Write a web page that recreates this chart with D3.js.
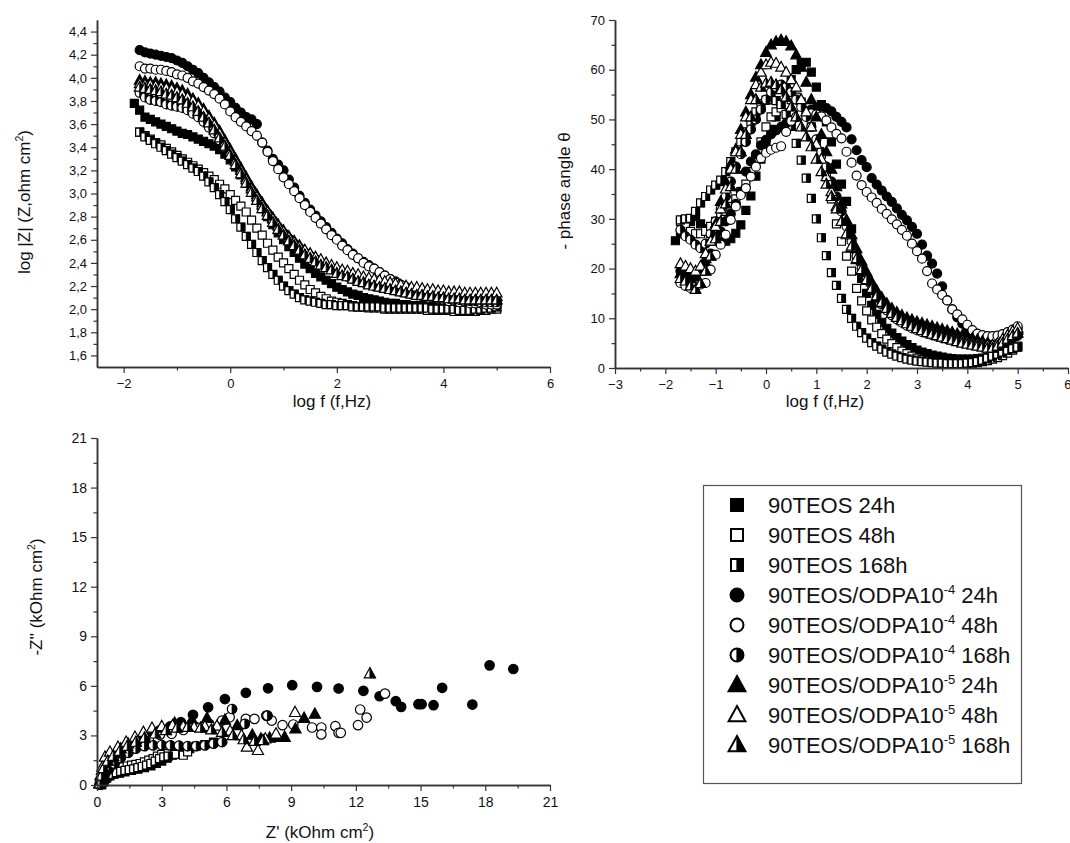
<!DOCTYPE html>
<html>
<head>
<meta charset="utf-8">
<script src="https://cdnjs.cloudflare.com/ajax/libs/d3/7.8.5/d3.min.js"></script>
<style>
    body { margin: 0; background: #fff; }
    svg { display: block; font-family: "Liberation Sans", Arial, sans-serif; }
</style>
</head>
<body>
<svg id="chart" width="1070" height="843"></svg>
<script>

// measurement frequencies, log f (Hz)
var logF = [-1.8,-1.7,-1.6,-1.5,-1.4,-1.3,-1.2,-1.1,-1.0,
    -0.9,-0.8,-0.7,-0.6,-0.5,-0.4,-0.3,-0.2,-0.1,0.0,
    0.1,0.2,0.3,0.4,0.5,0.6,0.7,0.8,0.9,1.0,
    1.1,1.2,1.3,1.4,1.5,1.6,1.7,1.8,1.9,2.0,
    2.1,2.2,2.3,2.4,2.5,2.6,2.7,2.8,2.9,3.0,
    3.1,3.2,3.3,3.4,3.5,3.6,3.7,3.8,3.9,4.0,
    4.1,4.2,4.3,4.4,4.5,4.6,4.7,4.8,4.9,5.0];

// log |Z| per sample
var zS24 = [3.78,3.72,3.66,3.64,3.62,3.60,3.58,3.56,3.54,
    3.52,3.51,3.49,3.47,3.45,3.43,3.41,3.38,3.34,3.29,
    3.23,3.16,3.09,3.02,2.94,2.87,2.80,2.73,2.66,2.60,
    2.54,2.49,2.44,2.39,2.35,2.31,2.28,2.25,2.22,2.19,
    2.17,2.15,2.13,2.12,2.10,2.09,2.08,2.07,2.06,2.05,
    2.05,2.04,2.04,2.03,2.03,2.03,2.02,2.02,2.02,2.01,
    2.01,2.00,2.00,1.99,1.99,2.00,2.00,2.00,2.01,2.01];
var zS48 = [null,3.53,3.50,3.47,3.44,3.42,3.39,3.36,3.33,
    3.30,3.27,3.24,3.21,3.18,3.15,3.12,3.08,3.04,2.99,
    2.94,2.89,2.84,2.77,2.70,2.64,2.57,2.51,2.45,2.40,
    2.35,2.30,2.25,2.21,2.17,2.14,2.11,2.09,2.07,2.06,
    2.05,2.04,2.03,2.02,2.02,2.01,2.01,2.01,2.00,2.00,
    2.00,2.00,2.00,2.00,2.00,2.00,1.99,1.99,1.99,1.99,
    1.99,1.98,1.98,1.98,1.98,1.98,1.99,1.99,2.00,2.00];
var zS168 = [null,3.53,3.49,3.46,3.43,3.40,3.37,3.34,3.31,
    3.28,3.25,3.22,3.19,3.15,3.10,3.05,2.99,2.93,2.86,
    2.78,2.71,2.63,2.56,2.49,2.42,2.36,2.30,2.25,2.20,
    2.16,2.13,2.10,2.08,2.07,2.06,2.05,2.04,2.04,2.03,
    2.03,2.03,2.02,2.02,2.02,2.02,2.02,2.02,2.01,2.01,
    2.01,2.01,2.01,2.01,2.01,2.01,2.01,2.00,2.00,2.00,
    2.00,2.00,1.99,1.99,1.99,2.00,2.00,2.01,2.01,2.02];
var zC24 = [null,4.24,4.22,4.21,4.20,4.19,4.18,4.17,4.15,
    4.13,4.10,4.07,4.04,4.00,3.96,3.92,3.88,3.83,3.79,
    3.74,3.70,3.66,3.64,3.60,3.44,3.37,3.30,3.25,3.20,
    3.12,3.05,2.98,2.92,2.86,2.81,2.76,2.71,2.66,2.61,
    2.57,2.52,2.48,2.44,2.41,2.38,2.35,2.32,2.29,2.26,
    2.24,2.21,2.19,2.17,2.15,2.13,2.12,2.11,2.10,2.09,
    2.08,2.07,2.07,2.06,2.06,2.05,2.05,2.05,2.05,2.04];
var zC48 = [null,4.10,4.08,4.08,4.07,4.07,4.06,4.05,4.03,
    4.02,4.00,3.97,3.95,3.92,3.89,3.86,3.82,3.77,3.71,
    3.66,3.62,3.58,3.54,3.50,3.44,3.36,3.28,3.21,3.14,
    3.08,3.02,2.96,2.90,2.84,2.79,2.74,2.69,2.64,2.60,
    2.55,2.51,2.47,2.44,2.40,2.37,2.35,2.32,2.29,2.26,
    2.23,2.21,2.18,2.16,2.14,2.12,2.11,2.10,2.09,2.08,
    2.07,2.07,2.06,2.06,2.05,2.05,2.05,2.04,2.04,2.04];
var zC168 = [null,3.87,3.83,3.81,3.80,3.79,3.77,3.76,3.75,
    3.74,3.72,3.69,3.66,3.62,3.57,3.52,3.46,3.40,3.33,
    3.26,3.18,3.10,3.03,2.96,2.89,2.83,2.77,2.71,2.66,
    2.61,2.57,2.53,2.49,2.46,2.43,2.40,2.37,2.35,2.32,
    2.30,2.28,2.26,2.25,2.23,2.22,2.20,2.19,2.18,2.17,
    2.16,2.15,2.14,2.13,2.12,2.11,2.11,2.10,2.10,2.09,
    2.09,2.08,2.08,2.07,2.07,2.07,2.06,2.06,2.06,2.06];
var zT24 = [null,3.98,3.97,3.96,3.96,3.95,3.94,3.93,3.91,
    3.89,3.86,3.82,3.78,3.73,3.67,3.61,3.54,3.46,3.38,
    3.30,3.22,3.14,3.06,2.99,2.92,2.85,2.79,2.73,2.68,
    2.63,2.59,2.55,2.51,2.48,2.45,2.42,2.40,2.37,2.35,
    2.33,2.31,2.30,2.28,2.27,2.25,2.24,2.23,2.22,2.21,
    2.20,2.19,2.18,2.17,2.16,2.15,2.15,2.14,2.14,2.13,
    2.13,2.12,2.12,2.12,2.11,2.11,2.11,2.11,2.11,2.11];
var zT48 = [null,3.95,3.94,3.94,3.93,3.92,3.91,3.90,3.88,
    3.86,3.83,3.80,3.76,3.71,3.65,3.59,3.52,3.44,3.36,
    3.28,3.20,3.12,3.04,2.97,2.90,2.84,2.78,2.72,2.67,
    2.62,2.58,2.54,2.51,2.48,2.45,2.43,2.40,2.38,2.36,
    2.34,2.33,2.31,2.30,2.28,2.27,2.26,2.25,2.24,2.23,
    2.22,2.21,2.20,2.19,2.19,2.18,2.17,2.17,2.16,2.16,
    2.15,2.15,2.15,2.14,2.14,2.14,2.14,2.14,2.14,2.14];
var zT168 = [null,3.92,3.91,3.90,3.89,3.88,3.86,3.85,3.83,
    3.81,3.78,3.75,3.71,3.66,3.61,3.55,3.48,3.41,3.33,
    3.25,3.17,3.09,3.01,2.94,2.87,2.81,2.75,2.69,2.64,
    2.59,2.55,2.51,2.47,2.44,2.41,2.38,2.36,2.34,2.31,
    2.29,2.28,2.26,2.24,2.23,2.21,2.20,2.19,2.18,2.17,
    2.16,2.15,2.14,2.13,2.12,2.12,2.11,2.11,2.10,2.10,
    2.09,2.09,2.09,2.08,2.08,2.08,2.08,2.08,2.08,2.08];

// - phase angle (deg) per sample
var phS24 = [25.6,27.0,28.5,29.5,30.5,29.0,28.0,27.0,26.0,
    25.5,25.5,26.0,27.1,28.8,31.7,34.6,38.6,42.0,45.0,
    48.0,50.5,53.0,55.5,58.0,60.0,61.3,61.5,59.5,56.5,
    53.0,49.5,45.5,41.0,37.0,33.5,28.0,22.5,18.0,15.0,
    12.6,10.8,9.2,8.0,7.0,6.1,5.4,4.7,4.1,3.6,
    3.2,2.9,2.6,2.4,2.2,2.0,1.9,1.8,1.8,1.8,
    1.8,1.9,2.0,2.2,2.4,2.7,3.0,3.4,3.9,4.3];
var phS48 = [null,29.5,28.5,27.5,27.0,27.0,27.5,28.5,29.5,
    30.5,31.5,32.5,34.0,35.5,37.0,39.5,42.0,45.5,48.5,
    50.5,51.5,52.3,53.0,54.0,54.5,53.5,51.5,48.5,45.5,
    43.0,38.5,34.0,29.0,25.5,22.5,19.5,16.0,13.5,11.5,
    9.7,8.2,6.9,5.8,4.9,4.1,3.4,2.9,2.4,2.0,
    1.7,1.5,1.3,1.2,1.1,1.0,1.0,1.0,1.0,1.0,
    1.0,1.1,1.3,1.5,1.8,2.1,2.5,3.0,3.6,4.4];
var phS168 = [null,29.8,30.0,30.1,31.5,33.2,34.5,35.8,36.8,
    37.8,39.5,41.5,43.5,45.5,47.5,49.5,51.5,53.2,53.9,
    54.0,53.8,53.0,51.0,48.6,45.2,41.8,38.2,34.1,30.0,
    26.2,22.6,19.2,16.6,14.0,11.8,10.0,8.4,7.1,6.0,
    5.1,4.4,3.8,3.2,2.8,2.4,2.1,1.8,1.6,1.4,
    1.3,1.2,1.1,1.0,1.0,0.9,0.9,0.9,0.9,1.0,
    1.1,1.3,1.6,2.0,2.4,2.8,3.2,3.6,3.9,4.2];
var phC24 = [null,19.5,19.0,18.5,18.5,19.5,20.5,23.0,25.5,
    27.5,29.5,31.0,33.0,35.5,39.5,41.5,43.0,44.8,45.9,
    47.0,47.8,48.5,49.2,49.8,50.4,51.0,51.6,52.0,52.3,
    52.6,52.3,51.6,50.5,49.5,48.4,46.0,43.8,41.8,40.4,
    38.2,36.9,35.7,34.5,33.4,32.1,30.8,29.7,28.4,27.0,
    24.8,22.6,21.0,19.0,16.4,13.6,11.8,10.2,8.9,7.8,
    7.2,6.6,6.2,5.9,5.7,5.6,5.7,6.1,7.0,8.0];
var phC48 = [null,17.1,16.5,16.1,16.3,16.8,17.1,19.8,22.8,
    24.8,26.8,29.8,32.5,34.8,36.2,38.5,40.5,42.2,43.3,
    43.9,44.3,44.6,47.5,49.7,50.5,51.0,51.2,51.2,51.0,
    50.6,49.8,48.4,47.1,46.2,43.5,41.3,38.7,36.8,35.4,
    34.3,33.2,32.0,31.0,29.9,28.9,27.8,26.6,25.0,23.5,
    22.0,19.5,17.0,15.8,14.7,13.6,11.8,10.8,9.8,8.7,
    7.6,6.9,6.6,6.4,6.4,6.5,6.8,7.2,7.7,8.4];
var phC168 = [null,27.8,26.5,25.8,24.8,24.1,25.0,27.0,29.5,
    32.0,34.5,37.5,40.5,43.0,45.5,48.0,50.0,52.0,54.0,
    55.5,56.5,57.0,56.5,55.5,54.0,52.5,50.5,48.5,46.0,
    43.5,40.5,37.5,34.5,31.5,28.5,25.5,22.5,20.0,17.8,
    15.8,14.2,12.8,11.6,10.6,9.8,9.1,8.5,8.0,7.6,
    7.2,6.9,6.6,6.3,6.0,5.8,5.5,5.3,5.1,4.9,
    4.7,4.5,4.3,4.2,4.3,4.6,5.0,5.5,6.0,6.5];
var phT24 = [null,19.0,18.5,18.0,18.5,19.5,22.0,25.5,29.0,
    33.5,37.5,41.0,44.0,48.0,51.5,55.0,58.5,61.0,63.5,
    65.0,65.7,66.0,65.7,64.8,63.0,60.5,57.5,54.0,50.5,
    47.0,43.5,40.0,36.5,33.0,29.8,26.8,24.0,21.5,19.3,
    17.3,15.6,14.2,13.0,12.0,11.2,10.6,10.1,9.7,9.3,
    9.0,8.7,8.4,8.1,7.8,7.5,7.2,6.9,6.6,6.3,
    6.0,5.7,5.4,5.0,4.6,4.8,5.6,6.5,7.2,7.6];
var phT48 = [null,21.0,20.5,20.0,19.5,20.5,23.0,25.5,28.5,
    32.0,36.0,40.0,43.5,47.0,50.5,54.0,57.0,59.5,61.0,
    61.5,61.3,60.5,59.5,58.0,56.5,54.0,51.5,48.5,45.0,
    42.0,38.5,35.5,32.5,29.5,26.8,24.2,21.8,19.6,17.6,
    15.9,14.4,13.1,12.0,11.1,10.3,9.7,9.1,8.6,8.2,
    7.8,7.5,7.2,6.9,6.6,6.3,6.0,5.7,5.5,5.3,
    5.1,4.9,4.7,4.6,4.6,5.0,5.8,6.6,7.4,8.0];
var phT168 = [null,18.0,17.5,16.5,15.8,17.0,19.5,22.5,26.0,
    29.5,33.0,36.5,40.0,43.5,47.0,50.5,54.0,56.5,57.3,
    57.5,57.0,56.0,54.5,52.5,50.5,48.5,46.5,44.5,42.0,
    39.5,37.0,34.5,32.0,29.5,27.0,24.5,22.0,19.8,17.8,
    16.0,14.5,13.2,12.0,11.0,10.2,9.5,8.9,8.4,7.9,
    7.5,7.1,6.8,6.5,6.2,5.9,5.6,5.3,5.0,4.8,
    4.6,4.4,4.2,4.0,4.0,4.4,5.0,5.8,6.5,7.0];

// Nyquist points [Z', -Z''] in kOhm cm2
var nyS24 = [[0.22,0.02],[0.28,0.15],[0.35,0.3],[0.45,0.42],[0.6,0.55],[0.8,0.65],[1.05,0.72],
    [1.3,0.8],[1.6,0.88],[1.9,0.96],[2.2,1.05],[2.5,1.15],[2.75,1.3],[3.0,1.45],[3.25,1.62],
    [3.5,1.8],[3.75,1.95],[4.0,2.1],[4.3,2.2],[4.6,2.35],[5.0,2.45],[5.4,2.6]];
var nyS48 = [[0.2,0.05],[0.3,0.35],[0.45,0.6],[0.6,0.8],[0.8,0.95],[1.0,1.05],[1.2,1.1],
    [1.4,1.15],[1.6,1.2],[1.8,1.25],[2.0,1.3],[2.2,1.4],[2.4,1.5],[2.6,1.6],[2.8,1.75],
    [3.0,1.85],[3.3,1.9],[3.6,1.85],[4.0,1.8],[4.2,2.0]];
var nyS168 = [[0.2,0.02],[0.25,0.2],[0.35,0.4],[0.5,0.55],[0.7,0.65],[0.9,0.75],[1.1,0.82],
    [1.3,0.88],[1.5,0.93],[1.7,0.98],[1.9,1.05],[2.1,1.12],[2.3,1.2],[2.5,1.3],[2.7,1.45],
    [2.9,1.6],[3.1,1.7],[3.3,1.75]];
var nyC24 = [[0.12,0.02],[0.2,0.3],[0.3,0.6],[0.45,0.95],[0.65,1.3],[0.9,1.65],[1.2,2.0],
    [1.55,2.35],[1.95,2.7],[2.4,3.0],[2.9,3.3],[3.4,3.55],[3.89,3.8],[4.45,4.25],[5.15,4.7],
    [5.93,5.2],[6.9,5.58],[7.93,5.85],[9.05,6.04],[10.2,5.94],[11.2,5.84],[12.35,5.7],
    [13.1,5.37],[13.85,5.07],[14.1,4.73],[14.9,4.89],[15.05,4.89],[15.6,4.83],[16.0,5.88],
    [17.4,4.87],[18.2,7.24],[19.3,7.02]];
var nyC48 = [[0.12,0.02],[0.18,0.25],[0.28,0.5],[0.42,0.8],[0.6,1.1],[0.85,1.45],[1.15,1.8],
    [1.5,2.15],[1.9,2.5],[2.4,2.8],[2.92,3.05],[3.46,3.1],[4.0,3.33],[4.6,3.5],[5.2,3.7],
    [5.8,3.9],[6.15,4.1],[6.9,4.0],[7.3,4.0],[7.85,4.2],[8.1,3.9],[8.6,3.62],[9.1,3.66],
    [9.97,3.48],[10.4,3.48],[10.4,3.06],[11.05,3.56],[11.2,3.16],[11.3,3.16],[12.1,3.62],
    [12.2,4.57],[12.5,4.08],[13.35,5.53]];
var nyC168 = [[0.15,0.02],[0.22,0.3],[0.35,0.6],[0.55,0.95],[0.8,1.3],[1.1,1.65],[1.45,1.95],
    [1.8,2.2],[2.2,2.35],[2.6,2.4],[3.0,2.42],[3.4,2.4],[3.8,2.38],[4.2,2.35],[4.6,2.35],
    [5.0,2.4],[5.4,2.5],[5.8,2.6],[6.26,4.6],[6.85,3.7],[7.9,4.2]];
var nyT24 = [[0.12,0.1],[0.18,0.5],[0.23,0.9],[0.4,1.3],[0.6,1.65],[0.83,1.9],[1.1,2.2],
    [1.44,2.5],[1.8,2.75],[2.2,3.0],[2.6,3.25],[3.0,3.45],[3.6,3.75],[4.4,3.95],[5.1,4.05],
    [5.93,3.93],[6.5,3.6],[7.2,3.03],[7.6,2.8],[8.0,2.85],[8.35,2.9],[8.7,2.9],[9.2,3.4],
    [9.6,4.05],[10.1,4.3]];
var nyT48 = [[0.12,0.1],[0.17,0.6],[0.25,1.1],[0.37,1.7],[0.6,2.0],[0.97,2.3],[1.35,2.6],
    [1.76,2.9],[2.15,3.2],[2.55,3.45],[3.0,3.55],[3.5,3.6],[4.0,3.55],[4.5,3.5],[5.0,3.55],
    [5.56,3.57],[6.17,3.27],[6.7,3.0],[6.95,2.3],[7.46,2.1],[7.8,2.8],[8.3,3.1],[9.18,4.4]];
var nyT168 = [[0.13,0.08],[0.2,0.55],[0.3,1.0],[0.5,1.45],[0.75,1.75],[1.05,2.05],[1.4,2.35],
    [1.8,2.6],[2.2,2.85],[2.7,3.1],[3.2,3.3],[3.7,3.45],[4.2,3.5],[4.8,3.45],[5.3,3.35],
    [5.8,3.2],[6.3,3.0],[6.8,2.75],[7.3,2.65],[7.7,2.7],[12.65,6.74]];

// legend labels: [text, superscript, rest]
var seriesLabels = [
    ["90TEOS 24h", "", ""],
    ["90TEOS 48h", "", ""],
    ["90TEOS 168h", "", ""],
    ["90TEOS/ODPA10", "-4", " 24h"],
    ["90TEOS/ODPA10", "-4", " 48h"],
    ["90TEOS/ODPA10", "-4", " 168h"],
    ["90TEOS/ODPA10", "-5", " 24h"],
    ["90TEOS/ODPA10", "-5", " 48h"],
    ["90TEOS/ODPA10", "-5", " 168h"]
];
var seriesShapes = ["square", "square", "square", "circle", "circle", "circle", "triangle", "triangle", "triangle"];
var seriesFills = ["full", "open", "half", "full", "open", "half", "full", "open", "half"];

// ticks
var zTicks = [1.6, 1.8, 2.0, 2.2, 2.4, 2.6, 2.8, 3.0, 3.2, 3.4, 3.6, 3.8, 4.0, 4.2, 4.4];
var zMinor = [1.7, 1.9, 2.1, 2.3, 2.5, 2.7, 2.9, 3.1, 3.3, 3.5, 3.7, 3.9, 4.1, 4.3];
var fTicksZ = [-2, 0, 2, 4, 6];
var fMinorZ = [-1, 1, 3, 5];
var fTicksPh = [-3, -2, -1, 0, 1, 2, 3, 4, 5, 6];
var fMinorPh = [-2.5, -1.5, -0.5, 0.5, 1.5, 2.5, 3.5, 4.5, 5.5];
var phTicks = [0, 10, 20, 30, 40, 50, 60, 70];
var phMinor = [5, 15, 25, 35, 45, 55, 65];
var nyTicks = [0, 3, 6, 9, 12, 15, 18, 21];
var nyMinor = [1.5, 4.5, 7.5, 10.5, 13.5, 16.5, 19.5];


var series = seriesLabels.map(function(lab, i) {
    return {
        label: lab,
        shape: seriesShapes[i],
        fill: seriesFills[i],
        z: [zS24, zS48, zS168, zC24, zC48, zC168, zT24, zT48, zT168][i],
        ph: [phS24, phS48, phS168, phC24, phC48, phC168, phT24, phT48, phT168][i],
        ny: [nyS24, nyS48, nyS168, nyC24, nyC48, nyC168, nyT24, nyT48, nyT168][i]
    };
});

var svg = d3.select("#chart");
svg.append("rect").attr("width", 1070).attr("height", 843).attr("fill", "#fff");

function shapePaths(shape, s) {
    var h = s / 2;
    if (shape == "square") {
        return {
            full: "M" + -h + "," + -h + "H" + h + "V" + h + "H" + -h + "Z",
            right: "M0," + -h + "H" + h + "V" + h + "H0Z"
        };
    }
    if (shape == "circle") {
        return {
            full: "M" + h + ",0A" + h + "," + h + " 0 1,1 " + -h + ",0A" + h + "," + h + " 0 1,1 " + h + ",0Z",
            right: "M0," + -h + "A" + h + "," + h + " 0 0,1 0," + h + "Z"
        };
    }
    var w = s * 0.56, top = -s * 0.6, base = s * 0.42;
    return {
        full: "M0," + top + "L" + w + "," + base + "L" + -w + "," + base + "Z",
        right: "M0," + top + "L" + w + "," + base + "L0," + base + "Z"
    };
}

function drawMarkers(g, pts, x, y, shape, fill, size, sw) {
    var p = shapePaths(shape, size);
    g.append("g")
        .selectAll("g")
        .data(pts)
        .enter()
        .append("g")
        .attr("transform", function(d) {
            return "translate(" + x(d[0]) + "," + y(d[1]) + ")";
        })
        .each(function() {
            var m = d3.select(this);
            m.append("path")
                .attr("d", p.full)
                .attr("fill", fill == "full" ? "#000" : "#fff")
                .attr("stroke", "#000")
                .attr("stroke-width", sw);
            if (fill == "half") {
                m.append("path")
                    .attr("d", p.right)
                    .attr("fill", "#000")
                    .attr("stroke", "#000")
                    .attr("stroke-width", sw * 0.6);
            }
        });
}

function drawAxis(make, scale, major, minor, fmt, transform, pad, fs) {
    svg.append("g")
        .attr("transform", transform)
        .call(make(scale).tickValues(minor).tickSize(3.5).tickSizeOuter(0).tickFormat(""));
    var a = svg.append("g")
        .attr("transform", transform)
        .call(make(scale).tickValues(major).tickSize(6).tickSizeOuter(0).tickPadding(pad).tickFormat(fmt));
    a.selectAll("text")
        .style("font-size", fs + "px")
        .style("font-family", "'Liberation Sans', Arial, sans-serif")
        .attr("fill", "#111");
    return a;
}

function axisLabel(txt, sup, rest, x, y, rot, fs) {
    var t = svg.append("text")
        .attr("transform", "translate(" + x + "," + y + ")" + (rot ? " rotate(-90)" : ""))
        .attr("text-anchor", "middle")
        .style("font-size", fs + "px")
        .attr("fill", "#111");
    t.append("tspan").text(txt);
    if (sup) {
        t.append("tspan").attr("dy", -7).style("font-size", (fs * 0.62) + "px").text(sup);
        t.append("tspan").attr("dy", 7).text(rest);
    }
    return t;
}

function bodePoints(arr) {
    return logF.map(function(f, i) {
        return [f, arr[i]];
    }).filter(function(d) {
        return d[1] != null;
    });
}

var comma = function(d) {
    return d3.format(".1f")(d).replace(".", ",");
};

// ---- |Z| vs log f
var x1 = d3.scaleLinear().domain([-2.5, 6]).range([97, 550]);
var y1 = d3.scaleLinear().domain([1.5, 4.5]).range([367, 20]);

series.forEach(function(s) {
    drawMarkers(svg, bodePoints(s.z), x1, y1, s.shape, s.fill, s.shape == "triangle" ? 9.5 : (s.shape == "circle" ? 9 : 8), 1.2);
});
drawAxis(d3.axisLeft, y1, zTicks, zMinor, comma, "translate(97,0)", 4, 13);
drawAxis(d3.axisBottom, x1, fTicksZ, fMinorZ, d3.format("d"), "translate(0,367)", 6, 13);
axisLabel("log |Z| (Z,ohm cm", "2", ")", 30, 202, true, 17);
axisLabel("log f (f,Hz)", "", "", 332, 407, false, 17);

// ---- phase vs log f
var x2 = d3.scaleLinear().domain([-3, 6]).range([615, 1068]);
var y2 = d3.scaleLinear().domain([0, 70]).range([368, 20]);

series.forEach(function(s) {
    drawMarkers(svg, bodePoints(s.ph), x2, y2, s.shape, s.fill, s.shape == "triangle" ? 9.5 : (s.shape == "circle" ? 9 : 8), 1.2);
});
drawAxis(d3.axisLeft, y2, phTicks, phMinor, d3.format("d"), "translate(615,0)", 4, 13);
var ax2 = drawAxis(d3.axisBottom, x2, fTicksPh, fMinorPh, d3.format("d"), "translate(0,368)", 6, 13);
// last label sits on the page edge
ax2.selectAll("text").filter(function(d) { return d == 6; }).attr("text-anchor", "end").attr("dx", 3);
axisLabel("- phase angle \u03b8", "", "", 570, 191, true, 17);
axisLabel("log f (f,Hz)", "", "", 825, 407, false, 17);

// ---- Nyquist
var x3 = d3.scaleLinear().domain([0, 21]).range([97, 550]);
var y3 = d3.scaleLinear().domain([0, 21]).range([785, 438]);

series.forEach(function(s) {
    drawMarkers(svg, s.ny, x3, y3, s.shape, s.fill, s.shape == "triangle" ? 10 : (s.shape == "circle" ? 9.5 : 8), 1.2);
});
drawAxis(d3.axisLeft, y3, nyTicks, nyMinor, d3.format("d"), "translate(97,0)", 4, 14);
drawAxis(d3.axisBottom, x3, nyTicks, nyMinor, d3.format("d"), "translate(0,785)", 6, 14);
axisLabel("-Z'' (kOhm cm", "2", ")", 42, 597, true, 17);
axisLabel("Z' (kOhm cm", "2", ")", 320, 838, false, 17);

svg.selectAll(".domain").attr("stroke", "#333").attr("stroke-width", 1.5);
svg.selectAll(".tick line").attr("stroke", "#333").attr("stroke-width", 1.2);

// ---- legend
var legend = svg.append("g");
legend.append("rect")
    .attr("x", 703.5).attr("y", 485.5)
    .attr("width", 318).attr("height", 298)
    .attr("fill", "#fff")
    .attr("stroke", "#555")
    .attr("stroke-width", 1.2);

var item = legend.selectAll("g.legend-item")
    .data(series)
    .enter()
    .append("g")
    .attr("class", "legend-item")
    .attr("transform", function(d, i) {
        return "translate(0," + (505 + 30 * i) + ")";
    });

item.each(function(d) {
    var g = d3.select(this);
    var sz = d.shape == "triangle" ? 15 : (d.shape == "circle" ? 13 : 12);
    drawMarkers(g, [[737, 0]], function(v) { return v; }, function(v) { return v; }, d.shape, d.fill, sz, 2);
    var t = g.append("text")
        .attr("x", 768)
        .attr("y", 8)
        .style("font-size", "22px")
        .attr("fill", "#111");
    t.append("tspan").text(d.label[0]);
    if (d.label[1]) {
        t.append("tspan").attr("dy", -9).style("font-size", "13px").text(d.label[1]);
        t.append("tspan").attr("dy", 9).text(d.label[2]);
    }
});

</script>
</body>
</html>
